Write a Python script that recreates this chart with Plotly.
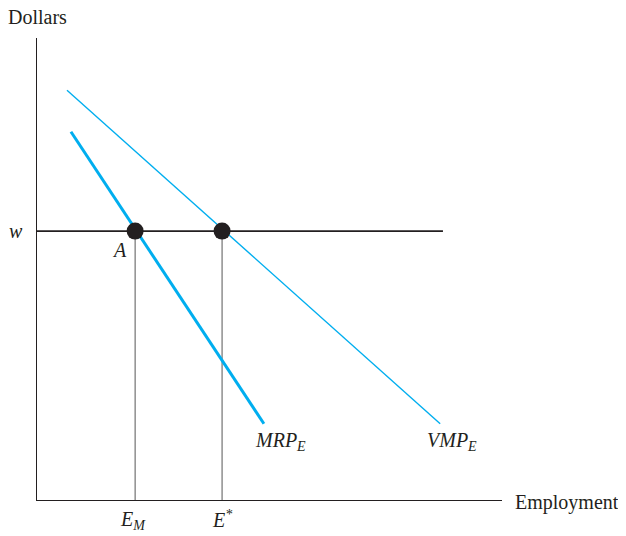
import plotly.graph_objects as go

# Data (abstract units: employment on x, dollars on y)
vmp_x = [6.45, 86.7]
vmp_y = [88.7, 16.5]
mrp_x = [7.3, 48.8]
mrp_y = [79.7, 16.5]
wage = 58.2
wage_x = [0, 87.3]
e_m = 21.1
e_star = 39.8
dot_x = [e_m, e_star]
dot_y = [wage, wage]

BLUE = "#00aeef"
DARK = "#231f20"
FONT = "Liberation Serif"

fig = go.Figure()
fig.add_trace(go.Scatter(x=[e_m, e_m], y=[0, wage], mode="lines",
                         line=dict(color="#555555", width=1), hoverinfo="skip"))
fig.add_trace(go.Scatter(x=[e_star, e_star], y=[0, wage], mode="lines",
                         line=dict(color="#555555", width=1), hoverinfo="skip"))
fig.add_trace(go.Scatter(x=wage_x, y=[wage, wage], mode="lines",
                         line=dict(color=DARK, width=1.6), hoverinfo="skip"))
fig.add_trace(go.Scatter(x=vmp_x, y=vmp_y, mode="lines",
                         line=dict(color=BLUE, width=1.4), hoverinfo="skip"))
fig.add_trace(go.Scatter(x=mrp_x, y=mrp_y, mode="lines",
                         line=dict(color=BLUE, width=3), hoverinfo="skip"))
fig.add_trace(go.Scatter(x=dot_x, y=dot_y, mode="markers",
                         marker=dict(color=DARK, size=17), hoverinfo="skip"))

def ann(x, y, text, xanchor="center", size=20):
    # axis ranges are 0..100, so paper coords = value / 100
    fig.add_annotation(x=x / 100, y=y / 100, xref="paper", yref="paper",
                       text=text, showarrow=False, xanchor=xanchor,
                       yanchor="middle", font=dict(family=FONT, size=size, color=DARK))

ann(0.2, 104.5, "Dollars")
ann(102.4, -0.6, "Employment", xanchor="left")
ann(-4.5, wage, "<i>w</i>")
ann(17.8, 54.1, "<i>A</i>")
ann(20.6, -4.5, "<i>E<sub>M</sub></i>")
ann(39.8, -4.1, "<i>E<sup>*</sup></i>")
ann(52.3, 12.6, "<i>MRP<sub>E</sub></i>")
ann(89.2, 12.6, "<i>VMP<sub>E</sub></i>")

# page body has an 8px default margin; compensate in left/top margins
fig.update_layout(
    width=626, height=536,
    margin=dict(l=29, r=132, t=30, b=44),
    plot_bgcolor="white", paper_bgcolor="white",
    showlegend=False,
    xaxis=dict(range=[0, 100], showgrid=False, zeroline=False, showticklabels=False,
               ticks="", showline=True, linecolor=DARK, linewidth=1.2, mirror=False,
               fixedrange=True),
    yaxis=dict(range=[0, 100], showgrid=False, zeroline=False, showticklabels=False,
               ticks="", showline=True, linecolor=DARK, linewidth=1.2, mirror=False,
               fixedrange=True),
)
for tr in fig.data:
    tr.cliponaxis = False

fig.write_html("out.html")
